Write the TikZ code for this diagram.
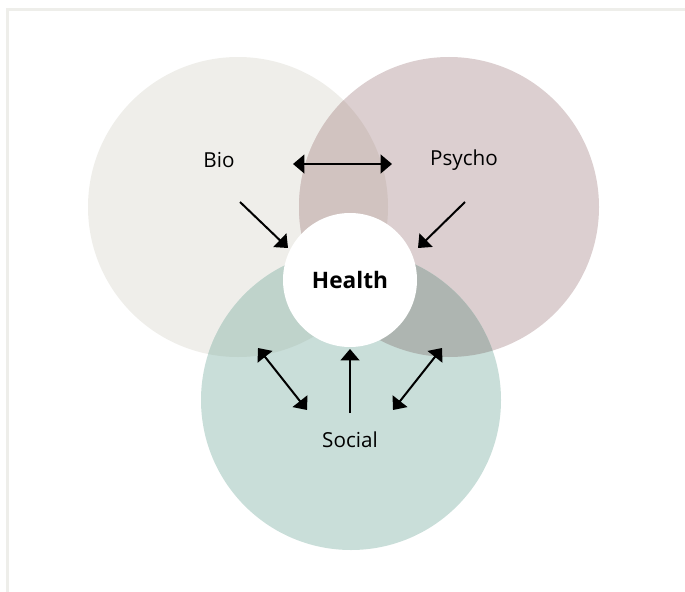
\documentclass[tikz,border=0pt]{standalone}
\usepackage{fontspec}
\setmainfont{Open Sans}
\usetikzlibrary{arrows.meta}
\definecolor{biofill}{RGB}{239,238,234}
\definecolor{psyfill}{RGB}{220,207,208}
\definecolor{socfill}{RGB}{201,222,217}
\definecolor{biopsy}{RGB}{209,195,192}
\definecolor{biosoc}{RGB}{191,211,203}
\definecolor{psysoc}{RGB}{174,181,177}
\definecolor{framegray}{RGB}{238,238,234}

\begin{document}
\begin{tikzpicture}[x=0.75pt,y=-0.75pt,font=\fontsize{15.5}{18}\selectfont,
  link/.style={line width=1.5pt,-{Triangle[length=8.5pt,width=14pt]}},
  twolink/.style={line width=1.5pt,{Triangle[length=8.5pt,width=14pt]}-{Triangle[length=8.5pt,width=14pt]}}]
\useasboundingbox (0,0) rectangle (685,592);
\draw[framegray,line width=2.5pt] (7.5,592) |- (685,9.5);
% the three circles
\fill[biofill] (238,207) circle[radius=150];
\fill[psyfill] (449,207) circle[radius=150];
\fill[socfill] (351,400) circle[radius=150];
% overlaps
\begin{scope}
\clip (238,207) circle[radius=150];
\fill[biopsy] (449,207) circle[radius=150];
\fill[biosoc] (351,400) circle[radius=150];
\end{scope}
\begin{scope}
\clip (449,207) circle[radius=150];
\fill[psysoc] (351,400) circle[radius=150];
\end{scope}
\node[circle,fill=white,inner sep=0pt,minimum size=100.5pt,font=\fontsize{17}{20}\selectfont\bfseries] (health) at (350,280) {Health};
\node (bio) at (219,160) {Bio};
\node (psycho) at (464,160) {Psycho};
\node (social) at (350,440) {Social};
% arrow ends
\coordinate (bp1) at (293,164);
\coordinate (bp2) at (392,164);
\coordinate (b1) at (240,202);
\coordinate (b2) at (288,248);
\coordinate (p1) at (465,202);
\coordinate (p2) at (418,248);
\coordinate (sl1) at (258,348);
\coordinate (sl2) at (307,410);
\coordinate (sm1) at (350,413);
\coordinate (sm2) at (350,349);
\coordinate (sr1) at (442,348);
\coordinate (sr2) at (393,410);
\draw[twolink] (bp1) -- (bp2);
\draw[link] (b1) -- (b2);
\draw[link] (p1) -- (p2);
\draw[twolink] (sl1) -- (sl2);
\draw[link] (sm1) -- (sm2);
\draw[twolink] (sr1) -- (sr2);
\end{tikzpicture}
\end{document}
